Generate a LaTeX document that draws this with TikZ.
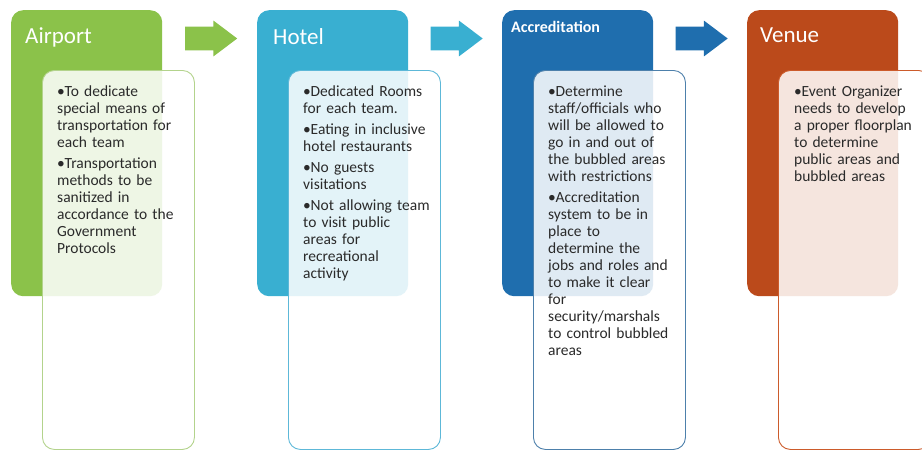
\documentclass[tikz,border=0pt]{standalone}
\usepackage{fontspec}
\setmainfont{Carlito}
\usepackage{tikz}
\usetikzlibrary{calc,shapes.arrows}

\definecolor{airgreen}{HTML}{8BC24A}
\definecolor{airedge}{HTML}{B3D38C}
\definecolor{hotelblue}{HTML}{39AFD1}
\definecolor{hoteledge}{HTML}{5DB8D8}
\definecolor{accblue}{HTML}{1F6EAE}
\definecolor{accedge}{HTML}{4D80AB}
\definecolor{venuered}{HTML}{BB4A1B}
\definecolor{venueedge}{HTML}{CC5B2B}
\definecolor{bodytext}{HTML}{2A2A2A}

% bullet with a hanging indent, new bullets are split off by \par
\newcommand{\bul}{\hangindent=7.5pt\hangafter=1\noindent\makebox[7.5pt][l]{\textbullet}}

\begin{document}
\begin{tikzpicture}[x=1pt, y=-1pt,
    headbox/.style={rounded corners=12pt, anchor=north west, inner sep=0pt,
      minimum width=151pt, minimum height=286pt},
    notebox/.style={rounded corners=12pt, anchor=north west, inner sep=0pt,
      fill=white, fill opacity=0.86, line width=0.9pt,
      minimum width=152pt, minimum height=379pt},
    headtext/.style={anchor=base west, inner sep=0pt, text=white,
      font=\fontsize{23}{26}\selectfont},
    bodynote/.style={anchor=base west, inner sep=0pt, text=bodytext, text width=170pt,
      font=\fontsize{15.5}{17}\selectfont, execute at begin node={\setlength{\parskip}{4pt}}},
    flowarrow/.style={single arrow, draw=none, anchor=west, inner xsep=0pt, inner ysep=11.7pt,
      minimum height=52pt, single arrow head extend=6pt, single arrow tip angle=74}]
    \useasboundingbox (0,0) rectangle (922,450);% keeps the page at 922 x 450

    % colour blocks, and the notes laid over them
    \foreach \name/\x/\col/\edge in {airport/11/airgreen/airedge, hotel/257/hotelblue/hoteledge,
        accred/502/accblue/accedge, venue/747/venuered/venueedge}{
      \node[headbox, fill=\col] (\name Head) at (\x,10) {};
      \node[notebox, draw=\edge] (\name Note) at (\x+31,70) {};
    }

    % the block arrows between the stages
    \node[flowarrow, fill=airgreen]  (arrowA) at (185,38.5) {};
    \node[flowarrow, fill=hotelblue] (arrowB) at (430.5,38.5) {};
    \node[flowarrow, fill=accblue]   (arrowC) at (675.5,38.5) {};

    % titles
    \node[headtext] (airportTitle) at ($(airportHead.north west)+(14,33)$) {Airport};
    \node[headtext] (hotelTitle)   at ($(hotelHead.north west)+(16,34)$) {Hotel};
    \node[headtext, font=\fontsize{16}{19}\selectfont\bfseries] (accredTitle)
      at ($(accredHead.north west)+(9,22)$) {Accreditation};
    \node[headtext] (venueTitle)   at ($(venueHead.north west)+(13,32)$) {Venue};

    % bullet texts
    \node[bodynote] (airportText) at ($(airportNote.north west)+(15,26)$) {%
      \bul To dedicate\\special means of\\transportation for\\each team\par
      \bul Transportation\\methods to be\\sanitized in\\accordance to the\\Government\\Protocols};
    \node[bodynote] (hotelText) at ($(hotelNote.north west)+(15,26)$) {%
      \bul Dedicated Rooms\\for each team.\par
      \bul Eating in inclusive\\hotel restaurants\par
      \bul No guests\\visitations\par
      \bul Not allowing team\\to visit public\\areas for\\recreational\\activity};
    \node[bodynote] (accredText) at ($(accredNote.north west)+(15,26)$) {%
      \bul Determine\\staff/officials who\\will be allowed to\\go in and out of\\the bubbled areas\\with restrictions\par
      \bul Accreditation\\system to be in\\place to\\determine the\\jobs and roles and\\to make it clear\\for\\security/marshals\\to control bubbled\\areas};
    \node[bodynote] (venueText) at ($(venueNote.north west)+(16,26)$) {%
      \bul Event Organizer\\needs to develop\\a proper floorplan\\to determine\\public areas and\\bubbled areas};
\end{tikzpicture}
\end{document}
